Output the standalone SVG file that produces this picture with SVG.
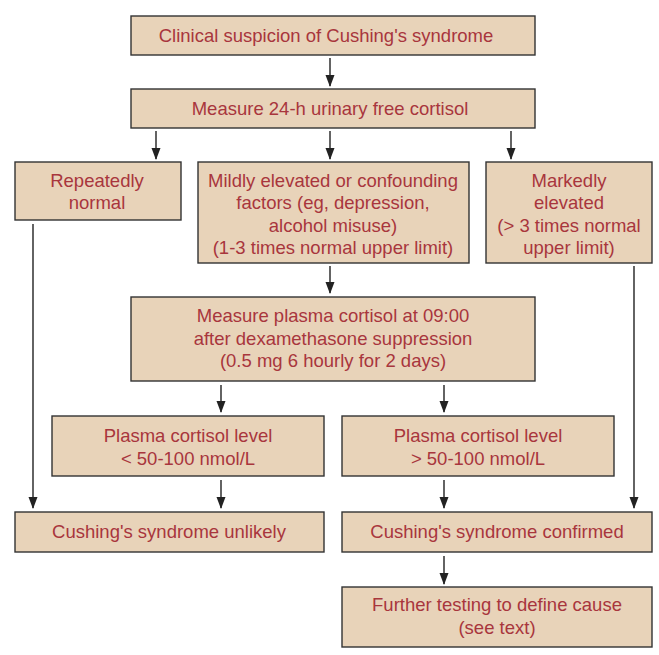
<svg xmlns="http://www.w3.org/2000/svg" width="659" height="655" viewBox="0 0 659 655">
<style>
.box{fill:#e8d3b9;stroke:#333;stroke-width:1.4}
.t{font-family:"Liberation Sans",Arial,sans-serif;font-size:18.5px;fill:#a8363d;text-anchor:middle}
.c{stroke:#222;stroke-width:1.4;fill:none;marker-end:url(#ah)}
</style>
<defs>
<marker id="ah" markerUnits="userSpaceOnUse" markerWidth="12" markerHeight="12" refX="11" refY="5" orient="auto" viewBox="0 0 12 10">
<path d="M0,0.5 L12,5 L0,9.5 Z" fill="#222"/>
</marker>
</defs>
<rect width="659" height="655" fill="#fff"/>
<g id="connectors">
<line class="c" x1="330" y1="58" x2="330" y2="86"/>
<line class="c" x1="156" y1="131" x2="156" y2="159"/>
<line class="c" x1="330" y1="131" x2="330" y2="159"/>
<line class="c" x1="511" y1="131" x2="511" y2="159"/>
<line class="c" x1="330" y1="266" x2="330" y2="293"/>
<line class="c" x1="221" y1="385" x2="221" y2="412"/>
<line class="c" x1="444" y1="385" x2="444" y2="412"/>
<line class="c" x1="221" y1="480" x2="221" y2="508"/>
<line class="c" x1="444" y1="480" x2="444" y2="508"/>
<line class="c" x1="33" y1="224" x2="33" y2="508"/>
<line class="c" x1="634" y1="266" x2="634" y2="508"/>
<line class="c" x1="444" y1="556" x2="444" y2="584"/>
</g>
<g id="n1"><rect class="box" x="131" y="16" width="404" height="39"/><text class="t" x="326" y="42">Clinical suspicion of Cushing's syndrome</text></g>
<g id="n2"><rect class="box" x="131" y="89" width="404" height="39"/><text class="t" x="330" y="115">Measure 24-h urinary free cortisol</text></g>
<g id="n3"><rect class="box" x="15" y="162" width="166" height="58"/><text class="t" x="97" y="187">Repeatedly</text><text class="t" x="97" y="209">normal</text></g>
<g id="n4"><rect class="box" x="198" y="162" width="271" height="101"/><text class="t" x="333" y="187">Mildly elevated or confounding</text><text class="t" x="333" y="209">factors (eg, depression,</text><text class="t" x="333" y="232">alcohol misuse)</text><text class="t" x="333" y="254">(1-3 times normal upper limit)</text></g>
<g id="n5"><rect class="box" x="486" y="162" width="166" height="101"/><text class="t" x="569" y="187">Markedly</text><text class="t" x="569" y="209">elevated</text><text class="t" x="569" y="232">(&gt; 3 times normal</text><text class="t" x="569" y="254">upper limit)</text></g>
<g id="n6"><rect class="box" x="131" y="297" width="404" height="84"/><text class="t" x="333" y="322">Measure plasma cortisol at 09:00</text><text class="t" x="333" y="345">after dexamethasone suppression</text><text class="t" x="333" y="367">(0.5 mg 6 hourly for 2 days)</text></g>
<g id="n7"><rect class="box" x="52" y="416" width="272" height="60"/><text class="t" x="188" y="442">Plasma cortisol level</text><text class="t" x="188" y="465">&lt; 50-100 nmol/L</text></g>
<g id="n8"><rect class="box" x="342" y="416" width="272" height="60"/><text class="t" x="478" y="442">Plasma cortisol level</text><text class="t" x="478" y="465">&gt; 50-100 nmol/L</text></g>
<g id="n9"><rect class="box" x="15" y="512" width="309" height="40"/><text class="t" x="169" y="538">Cushing's syndrome unlikely</text></g>
<g id="n10"><rect class="box" x="342" y="512" width="310" height="40"/><text class="t" x="497" y="538">Cushing's syndrome confirmed</text></g>
<g id="n11"><rect class="box" x="342" y="587" width="310" height="60"/><text class="t" x="497" y="611">Further testing to define cause</text><text class="t" x="497" y="634">(see text)</text></g>
</svg>
